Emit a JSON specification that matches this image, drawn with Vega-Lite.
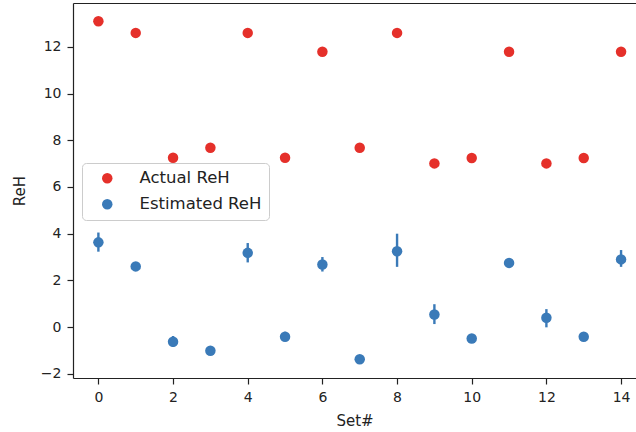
{
  "$schema": "https://vega.github.io/schema/vega-lite/v6.json",
  "autosize": "none",
  "padding": {"left": 73, "top": 3, "right": 0, "bottom": 54},
  "width": 563,
  "height": 375,
  "config": {
    "view": {"stroke": null},
    "font": "DejaVu Sans",
    "axis": {
      "grid": false,
      "domainColor": "#222",
      "tickColor": "#222",
      "labelColor": "#222",
      "titleColor": "#222",
      "labelFont": "DejaVu Sans",
      "titleFont": "DejaVu Sans",
      "labelFontSize": 14,
      "titleFontSize": 15,
      "titleFontWeight": "normal",
      "tickSize": 6,
      "labelPadding": 6,
      "domainWidth": 1.2,
      "tickWidth": 1.2
    }
  },
  "data": {
    "values": [
      {"set": 0, "series": "Actual ReH", "value": 13.1},
      {"set": 1, "series": "Actual ReH", "value": 12.6},
      {"set": 2, "series": "Actual ReH", "value": 7.25},
      {"set": 3, "series": "Actual ReH", "value": 7.68},
      {"set": 4, "series": "Actual ReH", "value": 12.6},
      {"set": 5, "series": "Actual ReH", "value": 7.25},
      {"set": 6, "series": "Actual ReH", "value": 11.79},
      {"set": 7, "series": "Actual ReH", "value": 7.68},
      {"set": 8, "series": "Actual ReH", "value": 12.6},
      {"set": 9, "series": "Actual ReH", "value": 7.01},
      {"set": 10, "series": "Actual ReH", "value": 7.24},
      {"set": 11, "series": "Actual ReH", "value": 11.79},
      {"set": 12, "series": "Actual ReH", "value": 7.01},
      {"set": 13, "series": "Actual ReH", "value": 7.24},
      {"set": 14, "series": "Actual ReH", "value": 11.79},
      {"set": 0, "series": "Estimated ReH", "value": 3.63, "lo": 3.23, "hi": 4.05},
      {"set": 1, "series": "Estimated ReH", "value": 2.6, "lo": 2.5, "hi": 2.7},
      {"set": 2, "series": "Estimated ReH", "value": -0.63, "lo": -0.85, "hi": -0.38},
      {"set": 3, "series": "Estimated ReH", "value": -1.01, "lo": -1.1, "hi": -0.92},
      {"set": 4, "series": "Estimated ReH", "value": 3.18, "lo": 2.77, "hi": 3.6},
      {"set": 5, "series": "Estimated ReH", "value": -0.41, "lo": -0.6, "hi": -0.2},
      {"set": 6, "series": "Estimated ReH", "value": 2.68, "lo": 2.38, "hi": 3.0},
      {"set": 7, "series": "Estimated ReH", "value": -1.38, "lo": -1.46, "hi": -1.3},
      {"set": 8, "series": "Estimated ReH", "value": 3.25, "lo": 2.58, "hi": 4.0},
      {"set": 9, "series": "Estimated ReH", "value": 0.54, "lo": 0.13, "hi": 0.98},
      {"set": 10, "series": "Estimated ReH", "value": -0.49, "lo": -0.68, "hi": -0.3},
      {"set": 11, "series": "Estimated ReH", "value": 2.75, "lo": 2.58, "hi": 2.95},
      {"set": 12, "series": "Estimated ReH", "value": 0.4, "lo": -0.01, "hi": 0.77},
      {"set": 13, "series": "Estimated ReH", "value": -0.41, "lo": -0.5, "hi": -0.32},
      {"set": 14, "series": "Estimated ReH", "value": 2.9, "lo": 2.58, "hi": 3.3}
    ]
  },
  "resolve": {"axis": {"x": "independent"}},
  "layer": [
    {
      "transform": [{"filter": "datum.series === 'Estimated ReH'"}],
      "mark": {"type": "rule", "color": "#3a7ab8", "strokeWidth": 2.4},
      "encoding": {
        "x": {"field": "set", "type": "quantitative", "scale": {"domain": [-0.68, 14.4], "nice": false, "zero": false},
              "axis": {"orient": "top", "labels": false, "ticks": false, "title": null}},
        "y": {"field": "lo", "type": "quantitative"},
        "y2": {"field": "hi"}
      }
    },
    {
      "mark": {"type": "point", "shape": "circle", "filled": true, "opacity": 1, "size": 110},
      "encoding": {
        "x": {"field": "set", "type": "quantitative", "scale": {"domain": [-0.68, 14.4], "nice": false, "zero": false},
              "axis": {"orient": "bottom", "title": "Set#", "values": [0, 2, 4, 6, 8, 10, 12, 14], "titlePadding": 9}},
        "y": {"field": "value", "type": "quantitative", "scale": {"domain": [-2.18, 13.88], "nice": false, "zero": false},
              "axis": {"title": "ReH", "values": [-2, 0, 2, 4, 6, 8, 10, 12], "titlePadding": 13}},
        "color": {
          "field": "series", "type": "nominal",
          "scale": {"domain": ["Actual ReH", "Estimated ReH"], "range": ["#e5302a", "#3a7ab8"]},
          "legend": {
            "title": null,
            "orient": "none",
            "legendX": 9,
            "legendY": 160,
            "padding": 7,
            "symbolOffset": 10,
            "symbolSize": 110,
            "symbolType": "circle",
            "symbolStrokeWidth": 0,
            "labelOffset": 24,
            "labelFontSize": 16.5,
            "labelFont": "DejaVu Sans",
            "labelColor": "#222",
            "rowPadding": 9,
            "strokeColor": "#cccccc",
            "fillColor": "rgba(255,255,255,0.8)",
            "cornerRadius": 4
          }
        }
      }
    }
  ]
}
